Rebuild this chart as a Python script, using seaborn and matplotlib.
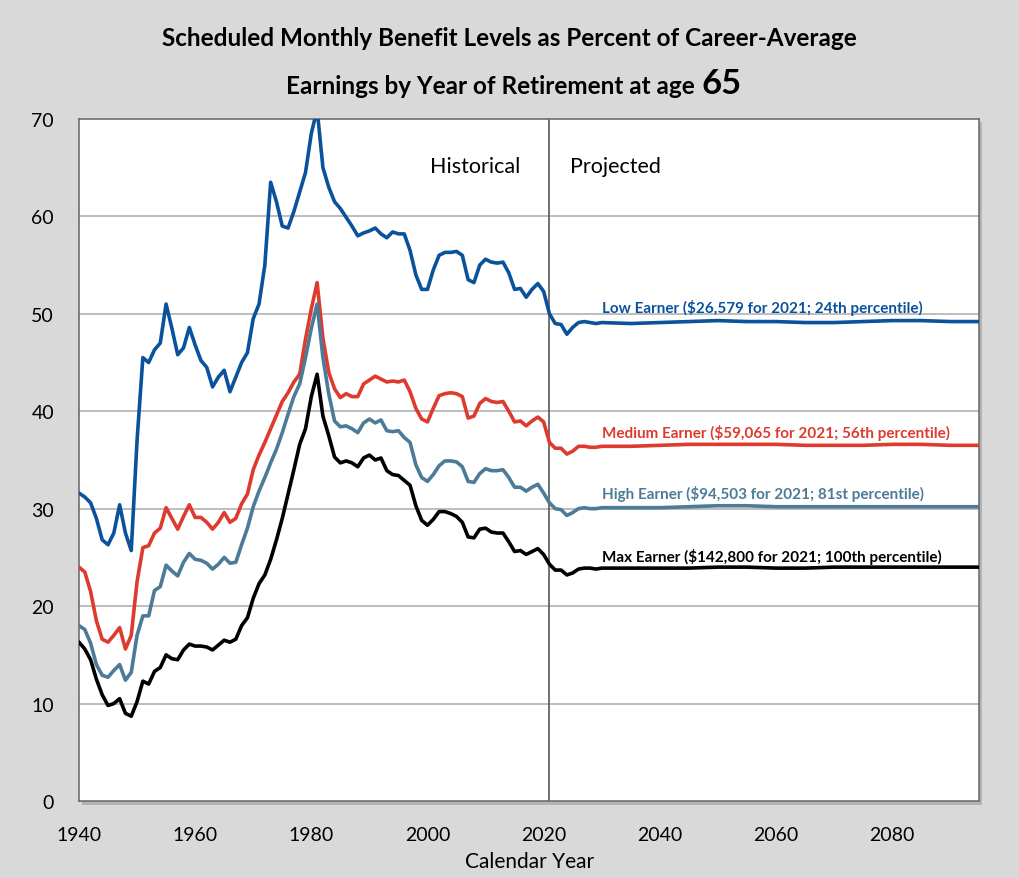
import numpy as np
import pandas as pd
import matplotlib.pyplot as plt
import seaborn as sns
from matplotlib.patches import Rectangle

# Years: annual through 2030, then every 5 years (projections are flat)
years = list(range(1940, 2031)) + list(range(2035, 2096, 5))

low_earner = [
    31.6, 31.2, 30.6, 29.0, 26.8, 26.3, 27.5, 30.4, 27.5, 25.7,
    37.0, 45.5, 45.0, 46.3, 47.0, 51.0, 48.5, 45.8, 46.5, 48.6,
    46.8, 45.2, 44.5, 42.5, 43.5, 44.2, 42.0, 43.5, 45.0, 46.0,
    49.5, 51.0, 55.0, 63.5, 61.5, 59.0, 58.8, 60.5, 62.5, 64.5,
    68.5, 71.0, 65.0, 63.0, 61.5, 60.8, 59.9, 59.0, 58.0, 58.3,
    58.5, 58.8, 58.2, 57.8, 58.4, 58.2, 58.2, 56.5, 54.0, 52.5,
    52.5, 54.5, 56.0, 56.3, 56.3, 56.4, 56.0, 53.5, 53.2, 55.0,
    55.6, 55.3, 55.2, 55.3, 54.2, 52.5, 52.6, 51.7, 52.5, 53.1,
    52.3, 50.0, 49.0, 48.9, 47.9, 48.6, 49.1, 49.2, 49.1, 49.0,
    49.1,
    49.0, 49.1, 49.2, 49.3, 49.2, 49.2, 49.1, 49.1, 49.2, 49.3, 49.3, 49.2, 49.2,
]

medium_earner = [
    24.0, 23.5, 21.5, 18.5, 16.6, 16.3, 17.0, 17.8, 15.6, 17.0,
    22.5, 26.0, 26.2, 27.5, 28.0, 30.1, 29.0, 27.9, 29.2, 30.4,
    29.1, 29.1, 28.6, 27.9, 28.6, 29.6, 28.6, 29.0, 30.5, 31.5,
    34.0, 35.5, 36.8, 38.2, 39.6, 41.0, 41.9, 43.0, 43.8, 47.4,
    50.5, 53.2, 47.5, 44.0, 42.3, 41.4, 41.8, 41.5, 41.5, 42.8,
    43.2, 43.6, 43.3, 43.0, 43.1, 43.0, 43.2, 42.0, 40.3, 39.2,
    38.9, 40.3, 41.6, 41.8, 41.9, 41.8, 41.5, 39.3, 39.5, 40.8,
    41.3, 41.0, 40.9, 41.0, 40.0, 38.9, 39.0, 38.5, 39.0, 39.4,
    38.9, 36.8, 36.2, 36.2, 35.6, 35.9, 36.4, 36.4, 36.3, 36.3,
    36.4,
    36.4, 36.5, 36.6, 36.6, 36.6, 36.6, 36.5, 36.5, 36.5, 36.6, 36.6, 36.5, 36.5,
]

high_earner = [
    18.0, 17.6, 16.2, 14.0, 12.9, 12.7, 13.4, 14.0, 12.4, 13.2,
    17.0, 19.0, 19.0, 21.6, 22.0, 24.2, 23.6, 23.1, 24.5, 25.4,
    24.8, 24.7, 24.4, 23.8, 24.3, 25.0, 24.4, 24.5, 26.3, 28.0,
    30.2, 31.8, 33.2, 34.7, 36.1, 37.8, 39.7, 41.5, 42.8, 45.5,
    48.5, 51.0, 45.5, 41.8, 39.0, 38.4, 38.5, 38.2, 37.8, 38.8,
    39.2, 38.8, 39.1, 38.0, 37.9, 38.0, 37.3, 36.8, 34.5, 33.2,
    32.8, 33.5, 34.4, 34.9, 34.9, 34.8, 34.3, 32.8, 32.7, 33.6,
    34.1, 33.9, 33.9, 34.0, 33.2, 32.2, 32.2, 31.8, 32.2, 32.5,
    31.6, 30.6, 30.0, 29.9, 29.3, 29.6, 30.0, 30.1, 30.0, 30.0,
    30.1,
    30.1, 30.1, 30.2, 30.3, 30.3, 30.2, 30.2, 30.2, 30.2, 30.2, 30.2, 30.2, 30.2,
]

max_earner = [
    16.3, 15.6, 14.5, 12.5, 10.9, 9.8, 10.0, 10.5, 9.0, 8.7,
    10.2, 12.3, 12.0, 13.3, 13.7, 15.0, 14.6, 14.5, 15.5, 16.1,
    15.9, 15.9, 15.8, 15.5, 16.0, 16.5, 16.3, 16.6, 18.0, 18.8,
    20.8, 22.3, 23.2, 24.8, 26.8, 29.0, 31.5, 34.0, 36.6, 38.2,
    41.5, 43.8, 39.5, 37.5, 35.3, 34.7, 34.9, 34.7, 34.3, 35.2,
    35.5, 35.0, 35.2, 33.9, 33.5, 33.4, 32.9, 32.4, 30.3, 28.8,
    28.3, 28.9, 29.7, 29.7, 29.5, 29.2, 28.6, 27.1, 27.0, 27.9,
    28.0, 27.6, 27.5, 27.5, 26.6, 25.6, 25.7, 25.3, 25.6, 25.9,
    25.3, 24.3, 23.7, 23.7, 23.2, 23.4, 23.8, 23.9, 23.9, 23.8,
    23.9,
    23.9, 23.9, 23.9, 24.0, 24.0, 23.9, 23.9, 24.0, 24.0, 24.0, 24.0, 24.0, 24.0,
]

series_names = ["Low", "Medium", "High", "Max"]
series_labels = [
    "Low Earner ($26,579 for 2021; 24th percentile)",
    "Medium Earner ($59,065 for 2021; 56th percentile)",
    "High Earner ($94,503 for 2021; 81st percentile)",
    "Max Earner ($142,800 for 2021; 100th percentile)",
]
label_y = [50.7, 37.9, 31.6, 25.1]
colors = {"Low": "#0A529C", "Medium": "#DE3A2E", "High": "#4C7B97", "Max": "#000000"}

df = pd.concat([
    pd.DataFrame({"year": years, "pct": vals, "earner": name})
    for name, vals in zip(series_names, [low_earner, medium_earner, high_earner, max_earner])
])

sns.set_theme(style="white")
plt.rcParams["font.family"] = ["Lato", "DejaVu Sans"]
plt.rcParams.update({"text.color": "black", "axes.labelcolor": "black",
                     "xtick.color": "black", "ytick.color": "black"})

fig = plt.figure(figsize=(10.19, 8.79), dpi=100)
fig.patch.set_facecolor("#D9D9D9")
ax = fig.add_axes([0.0775, 0.0876, 0.8835, 0.776])

# subtle drop shadow behind the plot area
fig.patches.append(Rectangle((0.0775 + 0.003, 0.0876 - 0.004), 0.8835, 0.776,
                             transform=fig.transFigure, facecolor="#9A9A9A",
                             edgecolor="none", zorder=0, alpha=0.6))
ax.set_zorder(1)
ax.set_facecolor("white")

for v in range(10, 70, 10):
    ax.axhline(v, color="#ABABAB", lw=1.1, zorder=1)
ax.axvline(2021, color="#595959", lw=1.2, zorder=1)

sns.lineplot(data=df, x="year", y="pct", hue="earner", palette=colors,
             hue_order=series_names, linewidth=2.6, legend=False, ax=ax, zorder=3,
             solid_joinstyle="round", solid_capstyle="round")

ax.set_xlim(1940, 2095)
ax.set_ylim(0, 70)
ax.set_xticks(range(1940, 2081, 20))
ax.set_yticks(range(0, 71, 10))
ax.tick_params(axis="x", direction="in", length=7, width=0.8, color="#7F7F7F",
               labelcolor="black", labelsize=14, pad=18)
ax.tick_params(axis="y", length=0, labelsize=14, pad=18, labelcolor="black")
ax.set_xlabel("Calendar Year", fontsize=15, labelpad=6)
ax.set_ylabel("")
for s in ax.spines.values():
    s.set_color("#6E6E6E")
    s.set_linewidth(1.2)

ax.text(2016, 65.2, "Historical", fontsize=15.5, ha="right", va="center")
ax.text(2024.5, 65.2, "Projected", fontsize=15.5, ha="left", va="center")

for name, lab, yv in zip(series_names, series_labels, label_y):
    ax.text(2030, yv, lab, color=colors[name], fontsize=11, fontweight="bold",
            ha="left", va="center")

fig.text(0.5, 0.956, "Scheduled Monthly Benefit Levels as Percent of Career-Average",
         fontsize=17.5, fontweight="bold", ha="center", va="center")
fig.text(0.682, 0.902, "Earnings by Year of Retirement at age",
         fontsize=17.5, fontweight="bold", ha="right", va="center")
fig.text(0.688, 0.905, "65", fontsize=25, fontweight="bold", ha="left", va="center")

fig.savefig("out.png", dpi=100, facecolor=fig.get_facecolor())
